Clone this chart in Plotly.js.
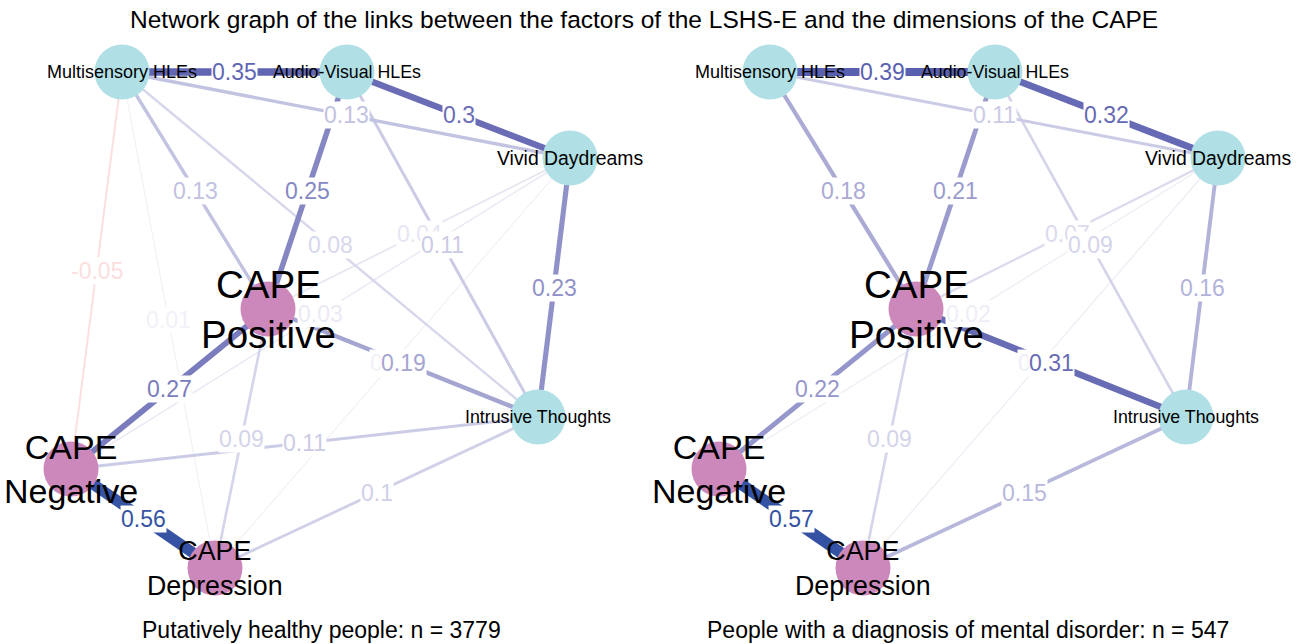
<!DOCTYPE html>
<html>
<head>
<meta charset="utf-8">
<script src="https://cdn.plot.ly/plotly-3.0.1.min.js"></script>
<style>
  html, body { margin: 0; padding: 0; background: #fff; }
  #net_graph { width: 1304px; height: 644px; }
</style>
</head>
<body>
<div id="net_graph"></div>
<script>
// nodes: LSHS-E factors then CAPE dimensions (same layout in both groups)
const nodeNames = ['Multisensory HLEs', 'Audio-Visual HLEs', 'Vivid Daydreams', 'Intrusive Thoughts',
                   'CAPE<br>Positive', 'CAPE<br>Negative', 'CAPE<br>Depression'];
const nodeGroup = ['LSHS', 'LSHS', 'LSHS', 'LSHS', 'CAPE', 'CAPE', 'CAPE'];
const nodeX = [122, 347, 570, 538, 268, 71, 215];
const nodeY = [72, 72, 158, 417, 309, 469, 568];

// edges (index into nodeNames), null = no edge in that group
const edgeFrom = [0, 1, 2, 1, 0, 0, 0, 1, 2, 4, 5, 5, 4, 5, 6, 0, 0, 2, 2];
const edgeTo   = [1, 2, 3, 4, 4, 2, 3, 3, 4, 3, 4, 6, 6, 3, 3, 5, 6, 5, 6];
const healthyWeights  = [0.35, 0.3, 0.23, 0.25, 0.13, 0.13, 0.08, 0.11, 0.04, 0.19, 0.27, 0.56, 0.09, 0.11, 0.1, -0.05, 0.01, 0.03, 0.01];
const disorderWeights = [0.39, 0.32, 0.16, 0.21, 0.18, 0.11, null, 0.09, 0.07, 0.31, 0.22, 0.57, 0.09, null, 0.15, null, null, 0.02, 0.02];

const panelTitles = ['Putatively healthy people: n = 3779', 'People with a diagnosis of mental disorder: n = 547'];
const mainTitle = 'Network graph of the links between the factors of the LSHS-E and the dimensions of the CAPE';

const FONT = 'Liberation Sans, Arial, sans-serif';
const nodeColors = {LSHS: '#b0e0e6', CAPE: '#cc88bb'};
const nodeFontSize = [18, 17.8, 19.4, 17.8, 38.5, 34, 26.8];

const posStops = [[0, [245, 245, 250]], [0.1, [208, 208, 232]], [0.2, [160, 160, 208]],
                  [0.3, [106, 109, 181]], [0.4, [88, 95, 175]], [0.57, [52, 82, 163]]];
const negStops = [[0, [255, 250, 250]], [0.05, [252, 222, 224]], [0.57, [190, 40, 70]]];

const edge_color = (w) => {
    const stops = w < 0 ? negStops : posStops;
    const a = Math.min(Math.abs(w), 0.57);
    for (let i = 1; i < stops.length; i++) {
        if (a <= stops[i][0]) {
            const [w0, c0] = stops[i - 1], [w1, c1] = stops[i];
            const t = (a - w0) / (w1 - w0);
            const c = c0.map((v, k) => Math.round(v + (c1[k] - v) * t));
            return `rgb(${c.join(',')})`;
        }
    }
    return `rgb(${stops[stops.length - 1][1].join(',')})`;
};

const traces = [];
const annotations = [];

const draw_panel = (weights, xa, ya) => {
    // weakest first so strong edges sit on top
    const order = weights
        .map((w, i) => i)
        .filter(i => weights[i] !== null)
        .sort((a, b) => Math.abs(weights[a]) - Math.abs(weights[b]));

    order.forEach(i => {
        const w = weights[i], a = edgeFrom[i], b = edgeTo[i];
        traces.push({
            type: 'scatter', mode: 'lines', xaxis: xa, yaxis: ya,
            x: [nodeX[a], nodeX[b]], y: [nodeY[a], nodeY[b]],
            line: {color: edge_color(w), width: 1 + 18 * Math.abs(w)},
            hoverinfo: 'skip', showlegend: false
        });
    });
    order.forEach(i => {
        const w = weights[i], a = edgeFrom[i], b = edgeTo[i];
        annotations.push({
            xref: xa, yref: ya,
            x: (nodeX[a] + nodeX[b]) / 2, y: (nodeY[a] + nodeY[b]) / 2,
            text: String(w), showarrow: false,
            bgcolor: 'white', borderpad: 0,
            font: {family: FONT, size: 23, color: edge_color(w)}
        });
    });

    traces.push({
        type: 'scatter', mode: 'markers', xaxis: xa, yaxis: ya,
        x: nodeX, y: nodeY,
        marker: {size: 55, color: nodeGroup.map(g => nodeColors[g]), line: {width: 0}},
        hoverinfo: 'skip', showlegend: false
    });
    nodeNames.forEach((name, i) => {
        annotations.push({
            xref: xa, yref: ya, x: nodeX[i], y: nodeY[i],
            text: name, showarrow: false,
            font: {family: FONT, size: nodeFontSize[i], color: 'black'}
        });
    });
};

draw_panel(healthyWeights, 'x', 'y');
draw_panel(disorderWeights, 'x2', 'y2');

annotations.push({
    xref: 'paper', yref: 'paper', x: 644 / 1304, y: 1 - 20 / 644,
    xanchor: 'center', yanchor: 'middle',
    text: mainTitle, showarrow: false,
    font: {family: FONT, size: 24.5, color: 'black'}
});
[321, 968].forEach((cx, i) => annotations.push({
    xref: 'paper', yref: 'paper', x: cx / 1304, y: 1 - 630 / 644,
    xanchor: 'center', yanchor: 'middle',
    text: panelTitles[i], showarrow: false,
    font: {family: FONT, size: 23, color: 'black'}
}));

const hidden_axis = (extra) => Object.assign({
    showgrid: false, zeroline: false, showticklabels: false, showline: false,
    ticks: '', fixedrange: true
}, extra);

const layout = {
    width: 1304, height: 644,
    margin: {l: 0, r: 0, t: 0, b: 0},
    paper_bgcolor: 'white', plot_bgcolor: 'white',
    xaxis: hidden_axis({domain: [0, 0.5], range: [0, 652]}),
    yaxis: hidden_axis({domain: [0, 1], range: [644, 0]}),
    xaxis2: hidden_axis({domain: [0.5, 1], range: [4, 656], anchor: 'y2'}),
    yaxis2: hidden_axis({domain: [0, 1], range: [644, 0], anchor: 'x2'}),
    annotations: annotations,
    showlegend: false
};

Plotly.newPlot('net_graph', traces, layout, {displayModeBar: false, staticPlot: true});
</script>
</body>
</html>
